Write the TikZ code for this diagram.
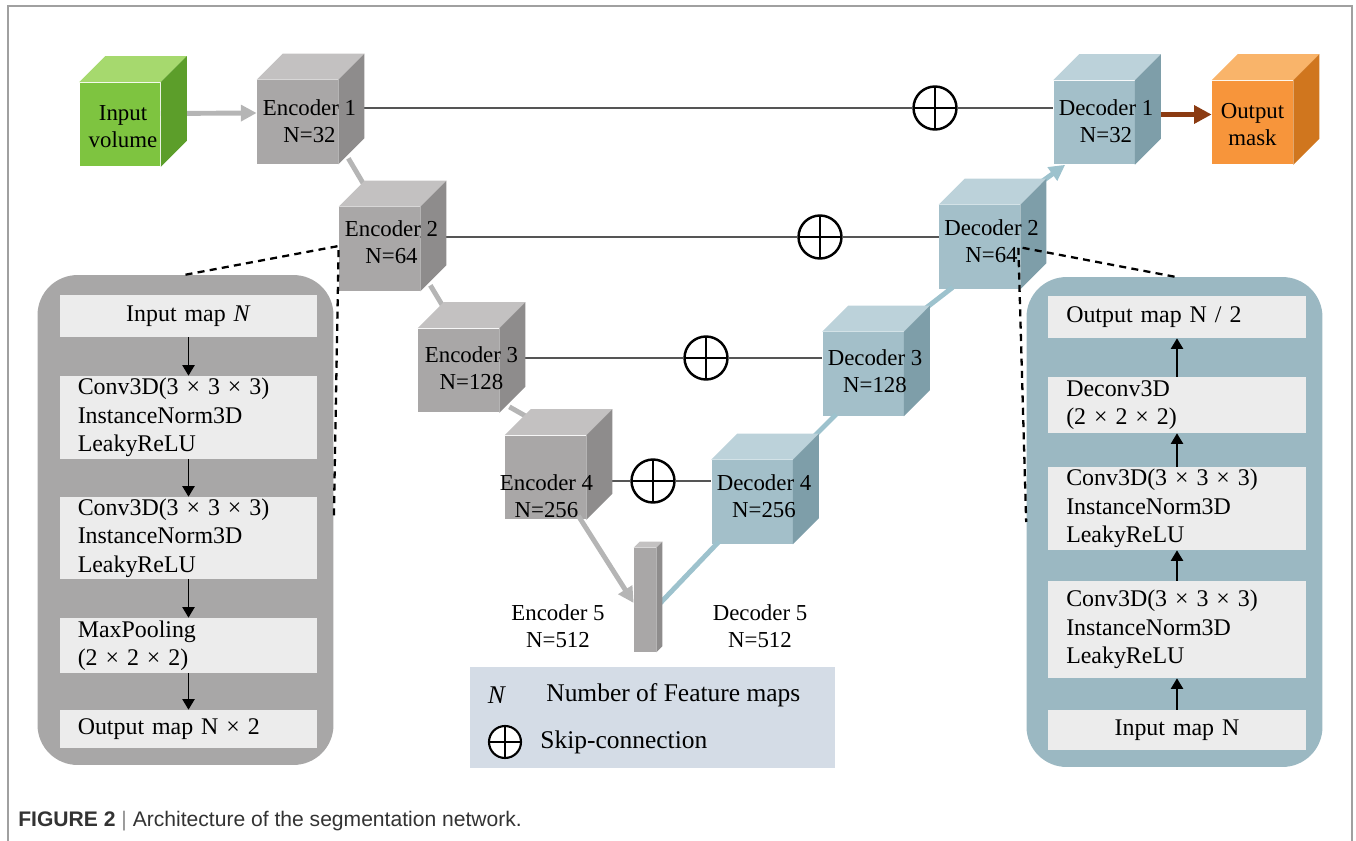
\documentclass[tikz,border=0pt]{standalone}
\usepackage{fontspec}
\setmainfont{Liberation Serif}
\newfontfamily\capfont{Liberation Sans}
\usetikzlibrary{arrows.meta}

\definecolor{encF}{HTML}{A9A7A7}
\definecolor{encT}{HTML}{C3C1C1}
\definecolor{encS}{HTML}{8E8C8C}
\definecolor{decF}{HTML}{A3BFC9}
\definecolor{decT}{HTML}{BCD2DA}
\definecolor{decS}{HTML}{7E9EA9}
\definecolor{inF}{HTML}{7EC440}
\definecolor{inT}{HTML}{A6D96E}
\definecolor{inS}{HTML}{5C9E2A}
\definecolor{outF}{HTML}{F7953B}
\definecolor{outT}{HTML}{F9B46A}
\definecolor{outS}{HTML}{D0761E}
\definecolor{lpanelgray}{HTML}{A8A7A7}
\definecolor{rpanelblue}{HTML}{9BB8C2}
\definecolor{boxgray}{HTML}{ECECEC}
\definecolor{legendbg}{HTML}{D4DCE6}
\definecolor{pipegray}{HTML}{B5B5B5}
\definecolor{pipeblue}{HTML}{9DC2CD}
\definecolor{pipebrown}{HTML}{8B3B12}
\definecolor{skipgray}{HTML}{555555}
\definecolor{framegray}{HTML}{A0A0A0}

\tikzset{
  cubefront/.style={rectangle, inner sep=0pt, minimum width=1.62cm, minimum height=1.68cm},
  cubelabel/.style={font=\fontsize{13}{15.5}\selectfont, align=center, inner sep=0pt},
  graypipe/.style={draw=pipegray, line width=2.8pt},
  bluepipe/.style={draw=pipeblue, line width=2.8pt},
  skipline/.style={draw=skipgray, line width=0.8pt},
  plus/.style={circle, draw=black, fill=white, line width=1.4pt, minimum size=0.86cm, inner sep=0pt,
    path picture={\draw (path picture bounding box.north) -- (path picture bounding box.south)
                        (path picture bounding box.west) -- (path picture bounding box.east);}},
  panel/.style={rectangle, rounded corners=0.8cm, minimum width=5.92cm, minimum height=9.8cm},
  layerbox/.style={rectangle, fill=boxgray, text width=4.43cm, inner xsep=0.36cm, inner ysep=0pt,
    align=left, font=\fontsize{13.6}{16.2}\selectfont},
  flow/.style={draw=black, line width=0.8pt, -{Triangle[length=6pt,width=7pt]}},
  zoomline/.style={draw=black, line width=1.3pt, dash pattern=on 4pt off 3pt},
  legendtext/.style={font=\fontsize{14.5}{17}\selectfont, inner sep=0pt}
}

\begin{document}
\begin{tikzpicture}[x=0.02cm,y=-0.02cm]
\useasboundingbox (0,0) rectangle (1356,841);
\draw[framegray, line width=0.8pt] (8,841) -- (8,6) -- (1352,6) -- (1352,841);

% front faces of the cubes
\node[cubefront, fill=inF] (inp) at (120,124.5) {};
\node[cubefront, fill=encF] (e1) at (297.5,122) {};
\node[cubefront, fill=encF] (e2) at (379.5,249) {};
\node[cubefront, fill=encF] (e3) at (458.5,370.5) {};
\node[cubefront, fill=encF] (e4) at (545.5,477.5) {};
\node[cubefront, fill=encF, minimum width=0.44cm, minimum height=2.08cm] (bn) at (645,600) {};
\node[cubefront, fill=decF] (d4) at (752,502) {};
\node[cubefront, fill=decF] (d3) at (863,374) {};
\node[cubefront, fill=decF] (d2) at (979.5,247) {};
\node[cubefront, fill=decF] (d1) at (1094,122.5) {};
\node[cubefront, fill=outF] (out) at (1252.5,122.5) {};

% skip-connections
\node[plus] (p1) at (935,108) {};
\node[plus] (p2) at (820,237) {};
\node[plus] (p3) at (706,358) {};
\node[plus] (p4) at (653,481) {};
\draw[skipline] (e1.east |- p1) -- (p1) -- (d1.west |- p1);
\draw[skipline] (e2.east |- p2) -- (p2) -- (d2.west |- p2);
\draw[skipline] (e3.east |- p3) -- (p3) -- (d3.west |- p3);
\draw[skipline] (e4.east |- p4) -- (p4) -- (d4.west |- p4);

% down and up paths
\draw[graypipe, -{Triangle[length=9pt,width=9pt]}] ([shift={(0,-11)}]inp.east) -- ([shift={(0,-9)}]e1.west);
\foreach \a/\b in {e1/e2,e2/e3,e3/e4}
  \draw[graypipe] ([shift={(10,-6)}]\a.south east) -- ([shift={(30,-14)}]\b.north west);
\draw[graypipe, -{Triangle[length=9pt,width=9pt]}] ([shift={(-8,-4)}]e4.south east) -- ([shift={(0,3)}]bn.west);
\draw[bluepipe] ([shift={(4,3)}]bn.east) -- ([shift={(8,-3)}]d4.south west);
\foreach \a/\b in {d4/d3,d3/d2}
  \draw[bluepipe] ([shift={(20,-22)}]\a.north east) -- ([shift={(14,-2)}]\b.south west);
\draw[bluepipe, -{Triangle[length=9pt,width=9pt]}] ([shift={(20,-22)}]d2.north east) -- ([shift={(12,0)}]d1.south west);
\draw[draw=pipebrown, line width=2.8pt, -{Triangle[length=10pt,width=10pt]}] ([shift={(0,-8)}]d1.east) -- ([shift={(0,-8)}]out.west);

% top and side faces
\foreach \n/\ftop/\fside in {inp/inT/inS,e1/encT/encS,e2/encT/encS,e3/encT/encS,e4/encT/encS,
                             d4/decT/decS,d3/decT/decS,d2/decT/decS,d1/decT/decS,out/outT/outS} {
  \fill[fill=\ftop] (\n.north west) -- ++(26,-26) -- ([shift={(26,-26)}]\n.north east) -- (\n.north east) -- cycle;
  \fill[fill=\fside] (\n.north east) -- ++(26,-26) -- ([shift={(26,-26)}]\n.south east) -- (\n.south east) -- cycle;
}
\fill[encT] (bn.north west) -- ++(6,-6) -- ([shift={(6,-6)}]bn.north east) -- (bn.north east) -- cycle;
\fill[encS] (bn.north east) -- ++(6,-6) -- ([shift={(6,-6)}]bn.south east) -- (bn.south east) -- cycle;

% cube labels
\foreach \n/\dx/\dy/\txt in {inp/3/2/{Input\\volume}, e1/12/-1/{Encoder 1\\N=32}, e2/12/-7/{Encoder 2\\N=64},
    e3/13/-2/{Encoder 3\\N=128}, e4/1/19/{Encoder 4\\N=256}, d4/12/-6/{Decoder 4\\N=256},
    d3/12/-3/{Decoder 3\\N=128}, d2/12/-6/{Decoder 2\\N=64}, d1/12/-1/{Decoder 1\\N=32}, out/0/2/{Output\\mask}}
  \node[cubelabel] (\n t) at ([shift={(\dx,\dy)}]\n.center) {\txt};
\node[cubelabel] (e5t) at (558,626) {Encoder 5\\N=512};
\node[cubelabel] (d5t) at (760,626) {Decoder 5\\N=512};

% encoder block
\node[panel, fill=lpanelgray] (lpanel) at (185.5,520) {};
\node[layerbox, minimum height=0.84cm, align=center] (l1) at (188.5,316) {Input map \textit{N}};
\node[layerbox, minimum height=1.66cm] (l2) at (188.5,417.5) {Conv3D(3 × 3 × 3)\\InstanceNorm3D\\LeakyReLU};
\node[layerbox, minimum height=1.64cm] (l3) at (188.5,538) {Conv3D(3 × 3 × 3)\\InstanceNorm3D\\LeakyReLU};
\node[layerbox, minimum height=1.1cm] (l4) at (188.5,645.5) {MaxPooling\\(2 × 2 × 2)};
\node[layerbox, minimum height=0.76cm] (l5) at (188.5,729) {Output map N × 2};
\foreach \a/\b in {l1/l2,l2/l3,l3/l4,l4/l5}
  \draw[flow] (\a) -- (\b);

% decoder block
\node[panel, fill=rpanelblue] (rpanel) at (1174.5,522) {};
\node[layerbox, minimum height=0.84cm] (r1) at (1177,317) {Output map N / 2};
\node[layerbox, minimum height=1.12cm] (r2) at (1177,405) {Deconv3D\\(2 × 2 × 2)};
\node[layerbox, minimum height=1.66cm] (r3) at (1177,508.5) {Conv3D(3 × 3 × 3)\\InstanceNorm3D\\LeakyReLU};
\node[layerbox, minimum height=1.94cm] (r4) at (1177,629.5) {Conv3D(3 × 3 × 3)\\InstanceNorm3D\\LeakyReLU};
\node[layerbox, minimum height=0.8cm, align=center] (r5) at (1177,730) {Input map N};
\foreach \a/\b in {r5/r4,r4/r3,r3/r2,r2/r1}
  \draw[flow] (\a) -- (\b);

% zoom lines
\draw[zoomline] (lpanel.north) -- ([shift={(0,-3)}]e2.west) -- (lpanel.east);
\draw[zoomline] (rpanel.north) -- ([shift={(-2,0)}]d2.east) -- (rpanel.west);

% legend
\node[rectangle, fill=legendbg, minimum width=7.3cm, minimum height=2.02cm] (legend) at (652.5,717.5) {};
\node[legendtext] (lgN) at (497,695) {\textit{N}};
\node[legendtext, anchor=west] (lgNt) at (546,695) {Number of Feature maps};
\node[plus, minimum size=0.64cm, line width=1.2pt] (lgp) at (505,742) {};
\node[legendtext, anchor=west] (lgpt) at (540,742) {Skip-connection};

% caption
\node[anchor=west, inner sep=0pt, font=\capfont\fontsize{12}{14}\selectfont, text=black!80] (cap) at (18,821)
  {\textbf{FIGURE 2}\ \textcolor{black!45}{|}\ Architecture of the segmentation network.};
\end{tikzpicture}
\end{document}
